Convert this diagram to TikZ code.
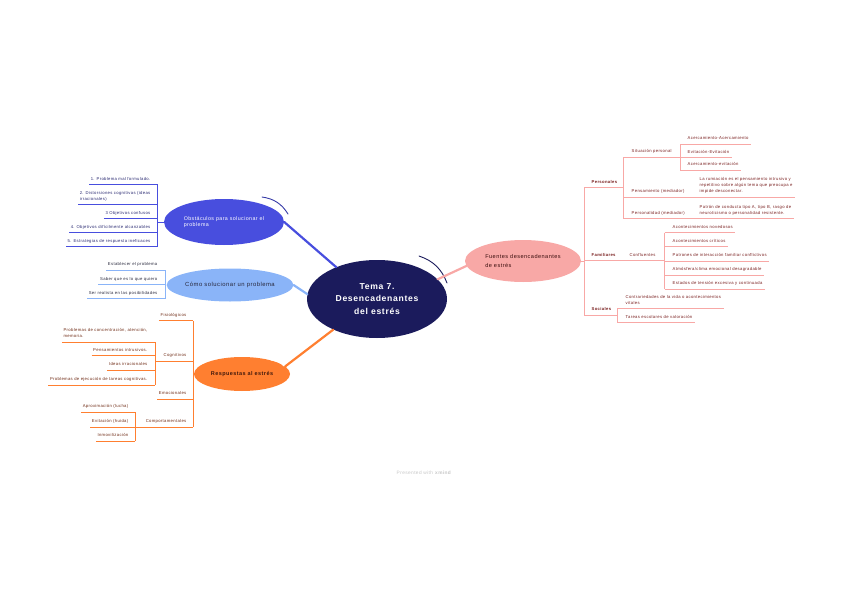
\documentclass[tikz,border=0pt]{standalone}
\usepackage{fontspec}
\setmainfont{Liberation Sans}[LetterSpace=8]
\usetikzlibrary{shapes.geometric}
\definecolor{navy}{RGB}{27,27,92}
\definecolor{obsblue}{RGB}{72,78,222}
\definecolor{skyblue}{RGB}{138,180,248}
\definecolor{resorange}{RGB}{255,127,48}
\definecolor{fuepink}{RGB}{248,168,166}
\definecolor{obstext}{RGB}{40,40,112}
\definecolor{comtext}{RGB}{40,40,60}
\definecolor{restext}{RGB}{110,42,20}
\definecolor{fuetext}{RGB}{120,30,30}
\def\mapsize#1#2{\fontsize{#1}{#2}\selectfont}
\tikzset{
  hub/.style={
    ellipse,
    inner sep=0pt,
    align=center
  },
  leafl/.style={anchor=south east, inner xsep=1.5pt, inner ysep=3pt, text depth=1pt, align=left, font=\mapsize{4.2}{6}},
  leafr/.style={anchor=south west, inner xsep=2.5pt, inner ysep=3pt, text depth=1pt, align=left, font=\mapsize{4.2}{6}},
  swoosh/.style={line width=0.9pt, line cap=round}
}
\tikzstyle{obline} = [draw=obsblue, line width=0.7pt]
\tikzstyle{comline} = [draw=skyblue, line width=0.7pt]
\tikzstyle{resline} = [draw=resorange, line width=0.7pt]
\tikzstyle{fueline} = [draw=fuepink, line width=0.7pt]
\begin{document}
\begin{tikzpicture}[x=1pt, y=-1pt]
    \useasboundingbox (0,0) rectangle (848,599);
    \node[hub, fill=navy, text=white, minimum width=140pt, minimum height=78pt, font=\mapsize{8.6}{12.5}\bfseries] (ctr) at (377, 299) {Tema 7.\\Desencadenantes\\del estrés};
    \node[hub, fill=obsblue, text=white, align=left, minimum width=120pt, minimum height=46pt, font=\mapsize{5.3}{6.5}] (obs) at (224, 222) {Obstáculos para solucionar el\\problema};
    \node[hub, fill=skyblue, text=comtext, minimum width=122pt, minimum height=33pt, font=\mapsize{5.9}{7}] (com) at (230, 285) {Cómo solucionar un problema};
    \node[hub, fill=resorange, text=restext!60!black, minimum width=96pt, minimum height=34pt, font=\mapsize{5.5}{7}\bfseries] (res) at (242, 374) {Respuestas al estrés};
    \node[hub, fill=fuepink, text=fuetext!50!black, align=left, minimum width=116pt, minimum height=42pt, font=\mapsize{5.6}{8.3}] (fue) at (523, 261) {Fuentes desencadenantes\\de estrés};
    \draw[swoosh, navy] (419,256) to[bend left=25] (447,283);
    \draw[swoosh, obsblue!75!black] (262,197) to[bend left=25] (288,214);
    \draw[swoosh, white] (265,201) to[bend left=20] (280,207);
    \draw[swoosh, white] (265,269) to[bend left=20] (283,275);
    \draw[swoosh, white] (271,360) to[bend left=20] (284,366);
    \draw[swoosh, white] (556,239) to[bend left=20] (576,250);
    \draw[obline, line width=2.2pt, line cap=round] (ctr.142) -- (obs.east);
    \draw[comline, line width=2.2pt, line cap=round] (ctr.176) -- (com.east);
    \draw[resline, line width=2.2pt, line cap=round] (ctr.215) -- (res.10);
    \draw[fueline, line width=2.2pt, line cap=round] (ctr.18) -- (fue.185);
    % obstaculos
    \coordinate (ov) at (157.5, 0);
    \node[leafl, text=obstext] (o1) at (152, 184.5) {1. Problema mal formulado.};
    \node[leafl, text=obstext] (o2) at (152, 204.5) {2. Distorsiones cognitivas (ideas\\irracionales)};
    \node[leafl, text=obstext] (o3) at (152, 218.5) {3 Objetivos confusos};
    \node[leafl, text=obstext] (o4) at (152, 232.5) {4. Objetivos difícilmente alcanzables};
    \node[leafl, text=obstext] (o5) at (152, 246.5) {5. Estrategias de respuesta ineficaces};
    \foreach \n in {o1, o2, o3, o4, o5} {
        \draw[obline] (\n.south west) -- (\n.south east -| ov);
    }
    \draw[obline] (o1.south east -| ov) -- (o5.south east -| ov);
    \draw[obline] (obs.west) -- (obs.west -| ov);
    % como solucionar
    \coordinate (cv) at (165, 0);
    \node[leafl, text=comtext] (s1) at (159, 270) {Establecer el problema};
    \node[leafl, text=comtext] (s2) at (159, 284.5) {Saber que es lo que quiero};
    \node[leafl, text=comtext] (s3) at (159, 298.5) {Ser realista en las posibilidades};
    \foreach \n in {s1, s2, s3} {
        \draw[comline] (\n.south west) -- (\n.south east -| cv);
    }
    \draw[comline] (s1.south east -| cv) -- (s3.south east -| cv);
    \draw[comline] (com.west) -- (com.west -| cv);
    % respuestas
    \coordinate (rv) at (193, 0);
    \coordinate (gv) at (155, 0);
    \coordinate (pv) at (135, 0);
    \node[leafl, text=restext] (r1) at (188, 320.5) {Fisiológicos};
    \node[leafl, text=restext] (r2) at (188, 361) {Cognitivos};
    \node[leafl, text=restext] (r3) at (188, 399) {Emocionales};
    \node[leafl, text=restext] (r4) at (188, 427) {Comportamentales};
    \node[leafl, text=restext] (c1) at (149, 342) {Problemas de concentración, atención,\\memoria.};
    \node[leafl, text=restext] (c2) at (149, 355.5) {Pensamientos intrusivos.};
    \node[leafl, text=restext] (c3) at (149, 370) {Ideas irracionales};
    \node[leafl, text=restext] (c4) at (149, 385) {Problemas de ejecución de tareas cognitivas.};
    \node[leafl, text=restext] (p1) at (130, 412) {Aproximación (lucha)};
    \node[leafl, text=restext] (p2) at (130, 427) {Evitación (huida)};
    \node[leafl, text=restext] (p3) at (130, 441) {Inmovilización};
    \draw[resline] (r1.south west) -- (r1.south east -| rv);
    \draw[resline] (r3.south west) -- (r3.south east -| rv);
    \draw[resline] (r2.south east -| gv) -- (r2.south east -| rv);
    \draw[resline] (r4.south east -| pv) -- (r4.south east -| rv);
    \foreach \n in {c1, c2, c3, c4} {
        \draw[resline] (\n.south west) -- (\n.south east -| gv);
    }
    \foreach \n in {p1, p2, p3} {
        \draw[resline] (\n.south west) -- (\n.south east -| pv);
    }
    \draw[resline] (r1.south east -| rv) -- (r4.south east -| rv);
    \draw[resline] (c1.south east -| gv) -- (c4.south east -| gv);
    \draw[resline] (p1.south east -| pv) -- (p3.south east -| pv);
    \draw[resline] (res.west) -- (res.west -| rv);
    % fuentes
    \coordinate (fv) at (584, 0);
    \coordinate (qv) at (623, 0);
    \coordinate (av) at (680, 0);
    \coordinate (kv) at (664.5, 0);
    \coordinate (tv) at (617, 0);
    \node[leafr, text=fuetext, font=\mapsize{4.2}{6}\bfseries] (f1) at (589, 187.5) {Personales};
    \node[leafr, text=fuetext, font=\mapsize{4.2}{6}\bfseries] (f2) at (589, 260.5) {Familiares};
    \node[leafr, text=fuetext, font=\mapsize{4.2}{6}\bfseries] (f3) at (589, 315) {Sociales};
    \node[leafr, text=fuetext] (q1) at (629, 157) {Situación personal};
    \node[leafr, text=fuetext] (q2) at (629, 197) {Pensamiento (mediador)};
    \node[leafr, text=fuetext] (q3) at (629, 218.5) {Personalidad (mediador)};
    \node[leafr, text=fuetext] (d1) at (697, 197) {La rumiación es el pensamiento intrusivo y\\repetitivo sobre algún tema que preocupa e\\impide desconectar.};
    \node[leafr, text=fuetext] (d2) at (697, 218.5) {Patrón de conducta tipo A, tipo B, rasgo de\\neuroticismo o personalidad resistente.};
    \node[leafr, text=fuetext] (a1) at (685, 144) {Acercamiento-Acercamiento};
    \node[leafr, text=fuetext] (a2) at (685, 157.5) {Evitación-Evitación};
    \node[leafr, text=fuetext] (a3) at (685, 170) {Acercamiento-evitación};
    \node[leafr, text=fuetext] (k0) at (627, 260.5) {Confluentes};
    \node[leafr, text=fuetext] (k1) at (670, 232.5) {Acontecimientos novedosos};
    \node[leafr, text=fuetext] (k2) at (670, 246.5) {Acontecimientos críticos};
    \node[leafr, text=fuetext] (k3) at (670, 261) {Patrones de interacción familiar conflictivos};
    \node[leafr, text=fuetext] (k4) at (670, 275) {Atmósfera/clima emocional desagradable};
    \node[leafr, text=fuetext] (k5) at (670, 289) {Estados de tensión excesiva y continuada};
    \node[leafr, text=fuetext] (t1) at (623, 308.5) {Contrariedades de la vida o acontecimientos\\vitales};
    \node[leafr, text=fuetext] (t2) at (623, 322.5) {Tareas escolares de valoración};
    \draw[fueline] (fue.east) -- (fue.east -| fv);
    \draw[fueline] (f1.south west -| fv) -- (f1.south west -| qv);
    \draw[fueline] (f2.south west -| fv) -- (f2.south west -| kv);
    \draw[fueline] (f3.south west -| fv) -- (f3.south west -| tv);
    \draw[fueline] (f1.south west -| fv) -- (f3.south west -| fv);
    \draw[fueline] (q1.south west -| qv) -- (q1.south west -| av);
    \draw[fueline] (q2.south west -| qv) -- (d1.south east);
    \draw[fueline] (q3.south west -| qv) -- (d2.south east);
    \draw[fueline] (q1.south west -| qv) -- (q3.south west -| qv);
    \foreach \n in {a1, a2, a3} {
        \draw[fueline] (\n.south west -| av) -- (\n.south east);
    }
    \draw[fueline] (a1.south west -| av) -- (a3.south west -| av);
    \foreach \n in {k1, k2, k3, k4, k5} {
        \draw[fueline] (\n.south west -| kv) -- (\n.south east);
    }
    \draw[fueline] (k1.south west -| kv) -- (k5.south west -| kv);
    \foreach \n in {t1, t2} {
        \draw[fueline] (\n.south west -| tv) -- (\n.south east);
    }
    \draw[fueline] (t1.south west -| tv) -- (t2.south west -| tv);
    \node[text=gray!45, font=\mapsize{4.8}{6}] (credit) at (424, 473) {Presented with \textbf{xmind}};
\end{tikzpicture}
\end{document}
